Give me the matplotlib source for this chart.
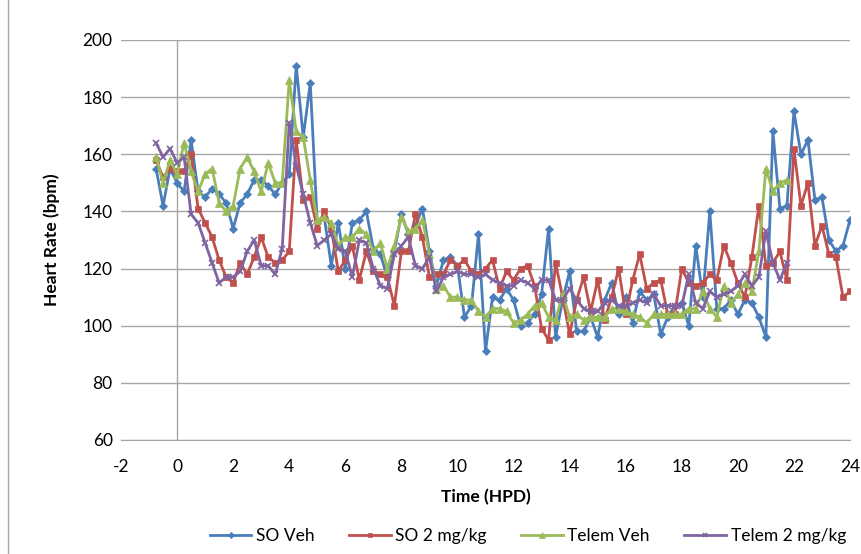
import numpy as np
import matplotlib.pyplot as plt
from matplotlib.lines import Line2D

plt.rcParams['font.family'] = ['Lato', 'DejaVu Sans']
plt.rcParams['axes.unicode_minus'] = False

# time points (HPD), one reading every 15 min
t_so = np.arange(-0.75, 24.01, 0.25)
t_telem = np.arange(-0.75, 21.76, 0.25)

so_veh = [155, 142, 155, 150, 147, 165, 147, 145, 148, 146, 143, 134, 143, 146, 151, 151,
          149, 146, 150, 153, 191, 166, 185, 136, 138, 121, 136, 120, 136, 137, 140, 127,
          125, 117, 126, 139, 132, 135, 141, 126, 114, 123, 124, 121, 103, 107, 132, 91,
          110, 109, 113, 109, 100, 101, 104, 111, 134, 96, 109, 119, 98, 98, 103, 96,
          109, 115, 104, 110, 101, 112, 109, 111, 97, 103, 107, 108, 100, 128, 110, 140,
          106, 106, 109, 104, 109, 108, 103, 96, 168, 141, 142, 175, 160, 165, 144, 145,
          130, 126, 128, 137]
so_2mg = [158, 152, 155, 154, 154, 160, 141, 136, 131, 123, 117, 115, 122, 118, 124, 131,
          124, 122, 123, 126, 165, 144, 145, 134, 140, 134, 119, 123, 128, 116, 126, 119,
          118, 117, 107, 126, 126, 139, 131, 117, 118, 118, 123, 121, 123, 119, 118, 120,
          123, 113, 119, 116, 120, 121, 114, 99, 95, 122, 110, 97, 109, 117, 105, 116,
          102, 110, 120, 104, 116, 125, 113, 115, 116, 104, 104, 120, 115, 114, 115, 118,
          116, 128, 122, 115, 110, 124, 142, 121, 122, 126, 116, 162, 142, 150, 128, 135,
          125, 124, 110, 112]
telem_veh = [159, 150, 158, 153, 164, 154, 147, 153, 155, 143, 140, 142, 155, 159, 154, 147,
             157, 150, 150, 186, 168, 166, 151, 137, 138, 136, 128, 131, 131, 134, 132, 126,
             129, 120, 128, 138, 133, 134, 137, 125, 113, 114, 110, 110, 109, 109, 105, 103,
             106, 106, 105, 101, 102, 104, 107, 108, 103, 102, 111, 103, 104, 102, 103, 103,
             103, 106, 106, 105, 104, 103, 101, 104, 104, 104, 104, 104, 106, 106, 112, 106,
             103, 114, 108, 111, 115, 112, 126, 155, 147, 150, 151]
telem_2mg = [164, 159, 162, 157, 159, 139, 136, 129, 122, 115, 117, 117, 119, 126, 130, 121,
             121, 118, 127, 171, 156, 146, 136, 128, 130, 132, 127, 126, 117, 130, 129, 120,
             114, 113, 125, 128, 131, 121, 120, 124, 112, 117, 118, 119, 118, 118, 117, 118,
             116, 115, 114, 114, 116, 115, 113, 116, 116, 109, 109, 113, 109, 106, 105, 105,
             108, 109, 107, 107, 108, 109, 108, 111, 107, 107, 107, 107, 118, 108, 106, 112,
             110, 111, 112, 114, 118, 114, 117, 133, 122, 116, 122]

series = [
    ("SO Veh", t_so, so_veh, "#4A7EBB", "D", 4.5),
    ("SO 2 mg/kg", t_so, so_2mg, "#C0504D", "s", 4.5),
    ("Telem Veh", t_telem, telem_veh, "#9BBB59", "^", 5.5),
    ("Telem 2 mg/kg", t_telem, telem_2mg, "#8064A2", "x", 5),
]

fig = plt.figure(figsize=(8.61, 5.54), dpi=100)
ax = fig.add_axes([121 / 861, 1 - 440 / 554, 729 / 861, 400 / 554])

for label, t, y, c, m, ms in series:
    ax.plot(t, y, color=c, marker=m, markersize=ms, linewidth=2, label=label,
            markeredgewidth=1.2 if m == "x" else 0.5)

ax.set_xlim(-2, 24)
ax.set_ylim(60, 200)
ax.set_xticks(range(-2, 25, 2))
ax.set_yticks(range(60, 201, 20))
ax.yaxis.grid(True, color="#A6A6A6", linewidth=1)
ax.set_axisbelow(True)
ax.axvline(0, color="#A6A6A6", linewidth=1, zorder=0)
for s in ["top", "right", "left"]:
    ax.spines[s].set_visible(False)
ax.spines["bottom"].set_color("#A6A6A6")
ax.tick_params(axis="both", length=0, labelsize=12.5)
ax.tick_params(axis="x", pad=14)
ax.tick_params(axis="y", pad=6)

ax.set_xlabel("Time (HPD)", fontsize=12.5, fontweight="bold", labelpad=10)
ax.set_ylabel("Heart Rate (bpm)", fontsize=12.5, fontweight="bold", labelpad=16)

ax.legend(loc="upper center", bbox_to_anchor=(0.558, -0.18), ncol=4, frameon=False,
          fontsize=12.5, handlelength=2.4, handletextpad=0.25, columnspacing=2.0,
          markerscale=0.7)

fig.add_artist(Line2D([8 / 861, 8 / 861], [0, 1], color="#A6A6A6", linewidth=1))

fig.savefig("out.png", dpi=100)
